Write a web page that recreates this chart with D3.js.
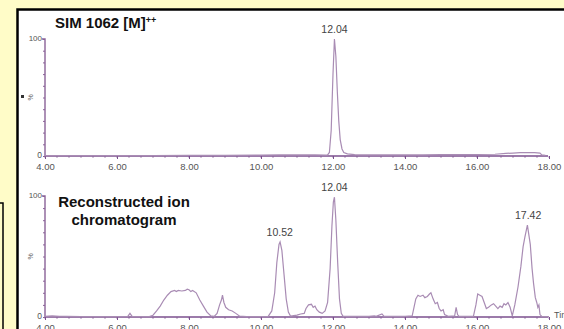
<!DOCTYPE html>
<html>
<head>
  <style>
    body {
      margin: 0;
      background: #fffcc8;
      overflow: hidden;
    }
    text {
      font-family: "Liberation Sans", Arial, sans-serif;
    }
    .tick text {
      fill: #555;
      font-size: 9.5px;
    }
    .trace {
      fill: none;
      stroke: #a98cb4;
      stroke-width: 1.2;
    }
  </style>
</head>
<body>
  <script src="https://d3js.org/d3.v7.min.js"></script>
  <script>
    var width = 564, height = 329;

    // time axis
    var timeTicks = [4, 6, 8, 10, 12, 14, 16, 18];

    // SIM 1062 [M]++ trace: [time, %]
    var simTrace = [
      [4.0, 0.3], [5.0, 0.3], [6.0, 0.4], [7.0, 0.4], [8.0, 0.5], [9.0, 0.5],
      [10.0, 0.8], [10.5, 1], [11.0, 1], [11.5, 1], [11.8, 0.8], [11.85, 1],
      [11.9, 3], [11.95, 22], [12.0, 70], [12.04, 100], [12.08, 85],
      [12.12, 55], [12.16, 30], [12.2, 14], [12.25, 6], [12.3, 3],
      [12.4, 1.8], [12.6, 1.2], [13.0, 1], [13.5, 1], [14.0, 1], [14.5, 1],
      [15.0, 1.2], [15.5, 1.2], [16.0, 1.3], [16.5, 1.5], [16.8, 2.2],
      [17.0, 2.5], [17.2, 2.8], [17.4, 3], [17.6, 2.8], [17.75, 2.5], [17.8, 1], [17.9, 0.5]
    ];

    // reconstructed ion chromatogram: [time, %]
    var ricTrace = [
      [4.0, 0.5], [4.2, 1], [4.4, 0.6], [4.6, 0.5], [5.0, 0.3], [5.5, 0.3],
      [6.0, 0.3], [6.3, 0.5], [6.36, 3], [6.42, 0.5], [6.9, 0.3], [7.0, 1.5],
      [7.1, 5], [7.2, 9], [7.3, 14], [7.4, 18], [7.5, 21], [7.6, 22],
      [7.65, 21], [7.7, 22], [7.8, 21.5], [7.9, 22], [7.95, 23], [8.0, 22.5],
      [8.05, 21], [8.1, 22], [8.2, 20], [8.3, 14], [8.4, 9], [8.5, 4],
      [8.6, 1], [8.7, 0.5], [8.78, 3], [8.85, 10], [8.9, 14], [8.93, 18],
      [8.97, 12], [9.02, 8], [9.1, 6], [9.2, 5], [9.3, 3], [9.4, 0.8],
      [9.6, 0.3], [10.0, 0.3], [10.2, 0.5], [10.3, 5], [10.38, 20],
      [10.44, 45], [10.5, 60], [10.53, 62], [10.58, 55], [10.64, 35],
      [10.7, 15], [10.76, 4], [10.82, 0.8], [11.0, 1.5], [11.1, 2.5],
      [11.2, 3], [11.25, 7], [11.32, 10], [11.4, 10.5], [11.45, 8],
      [11.5, 9], [11.55, 6], [11.62, 4], [11.7, 3], [11.78, 5], [11.85, 12],
      [11.92, 40], [11.97, 75], [12.01, 95], [12.04, 99], [12.08, 80],
      [12.13, 45], [12.18, 15], [12.23, 3], [12.28, 0.5], [12.5, 0.5],
      [13.0, 0.5], [13.15, 1], [13.2, 0.5], [13.36, 2.5], [13.42, 0.5],
      [13.6, 0.5], [14.0, 0.5], [14.2, 1], [14.25, 8], [14.3, 15],
      [14.36, 18], [14.42, 17], [14.5, 18], [14.55, 16], [14.62, 17],
      [14.68, 19], [14.72, 20], [14.78, 15], [14.84, 11], [14.9, 12],
      [14.95, 7], [15.0, 5], [15.06, 6], [15.1, 2], [15.2, 0.5], [15.38, 1],
      [15.42, 8], [15.46, 2], [15.5, 0.5], [15.9, 0.5], [15.97, 10],
      [16.02, 19], [16.08, 18], [16.14, 17], [16.2, 12], [16.26, 7],
      [16.32, 8], [16.4, 10], [16.46, 11], [16.52, 9], [16.58, 7],
      [16.64, 9], [16.7, 8], [16.75, 11], [16.8, 10], [16.86, 12],
      [16.92, 8], [16.98, 1], [17.05, 10], [17.14, 25], [17.22, 42],
      [17.28, 58], [17.33, 66], [17.4, 76], [17.48, 60], [17.53, 40],
      [17.57, 28], [17.62, 16], [17.66, 12], [17.69, 8], [17.72, 10],
      [17.75, 2], [17.8, 0.5], [18.0, 0.3]
    ];

    // labelled peaks
    var simPeaks = [[12.04, 100, "12.04"]];
    var ricPeaks = [[10.52, 62, "10.52"], [12.04, 99, "12.04"], [17.42, 76, "17.42"]];

    var svg = d3.select("body").append("svg")
        .attr("width", width)
        .attr("height", height);

    // left edge box and white panel
    svg.append("rect")
        .attr("x", -6).attr("y", 203).attr("width", 9).attr("height", 200)
        .attr("fill", "none").attr("stroke", "#000").attr("stroke-width", 1.5);
    svg.append("rect")
        .attr("x", 17.5).attr("y", 9.5).attr("width", 600).attr("height", 400)
        .attr("fill", "#fff").attr("stroke", "#000").attr("stroke-width", 2.5);

    var x = d3.scaleLinear().domain([4, 18]).range([45, 549]);

    var minorTicks = d3.range(4, 18.01, 1 / 3);

    function panel(trace, peaks, y0, y1) {
      var y = d3.scaleLinear().domain([0, 100]).range([y0, y1]);
      var g = svg.append("g");

      // minor time ticks
      g.selectAll(".minor").data(minorTicks).enter().append("line")
          .attr("x1", d => x(d)).attr("x2", d => x(d))
          .attr("y1", y0).attr("y2", y0 + 2)
          .attr("stroke", "#9a7aa6").attr("stroke-width", 0.8);

      var xAxis = g.append("g")
          .attr("transform", "translate(0," + y0 + ")")
          .call(d3.axisBottom(x).tickValues(timeTicks).tickSize(3)
            .tickFormat(d3.format(".2f")).tickPadding(4));
      xAxis.select(".domain").attr("stroke", "#7b4f8e").attr("stroke-width", 1.6)
          .attr("d", "M45,0H548");
      xAxis.selectAll(".tick line").attr("stroke", "#7b4f8e");

      var yAxis = g.append("g")
          .attr("transform", "translate(45,0)")
          .call(d3.axisLeft(y).tickValues(d3.range(0, 101, 10)).tickSize(2)
            .tickFormat(""));
      yAxis.select(".domain").attr("stroke", "#8a6298").attr("stroke-width", 1.4)
          .attr("d", "M-3," + y1 + "H0V" + y0);
      yAxis.selectAll(".tick line").attr("stroke", "#8a6298");

      g.append("text").attr("x", 42).attr("y", y1 + 2).attr("text-anchor", "end")
          .attr("font-size", 8).attr("fill", "#555").text("100");
      g.append("text").attr("x", 42).attr("y", y0 + 2).attr("text-anchor", "end")
          .attr("font-size", 8.5).attr("fill", "#555").text("0");
      g.append("text")
          .attr("transform", "translate(31," + y(50) + ") rotate(-90)")
          .attr("text-anchor", "middle").attr("dy", "0.35em")
          .attr("font-size", 7).attr("fill", "#666").text("%");

      var line = d3.line().x(d => x(d[0])).y(d => y(d[1]));
      g.append("path").datum(trace).attr("class", "trace").attr("d", line);

      g.selectAll(".peak").data(peaks).enter().append("text")
          .attr("x", d => x(d[0])).attr("y", d => y(d[1]) - 6)
          .attr("text-anchor", "middle").attr("font-size", 10.5)
          .attr("fill", "#444").text(d => d[2]);

      return y;
    }

    panel(simTrace, simPeaks, 156, 39);
    panel(ricTrace, ricPeaks, 317, 196);

    // small mark left of top %
    svg.append("rect").attr("x", 21).attr("y", 95).attr("width", 3).attr("height", 3)
        .attr("fill", "#333");

    svg.append("text").attr("x", 55).attr("y", 28)
        .attr("font-size", 15).attr("font-weight", "bold").attr("fill", "#111")
        .text("SIM 1062 [M]")
      .append("tspan").attr("dy", -5).attr("font-size", 9).text("++");

    svg.append("text").attr("x", 124).attr("y", 207).attr("text-anchor", "middle")
        .attr("font-size", 15).attr("font-weight", "bold").attr("fill", "#111")
        .text("Reconstructed ion");
    svg.append("text").attr("x", 124).attr("y", 225).attr("text-anchor", "middle")
        .attr("font-size", 15).attr("font-weight", "bold").attr("fill", "#111")
        .text("chromatogram");

    svg.append("text").attr("x", 554).attr("y", 318)
        .attr("font-size", 9).attr("fill", "#555").text("Time");
  </script>
</body>
</html>
